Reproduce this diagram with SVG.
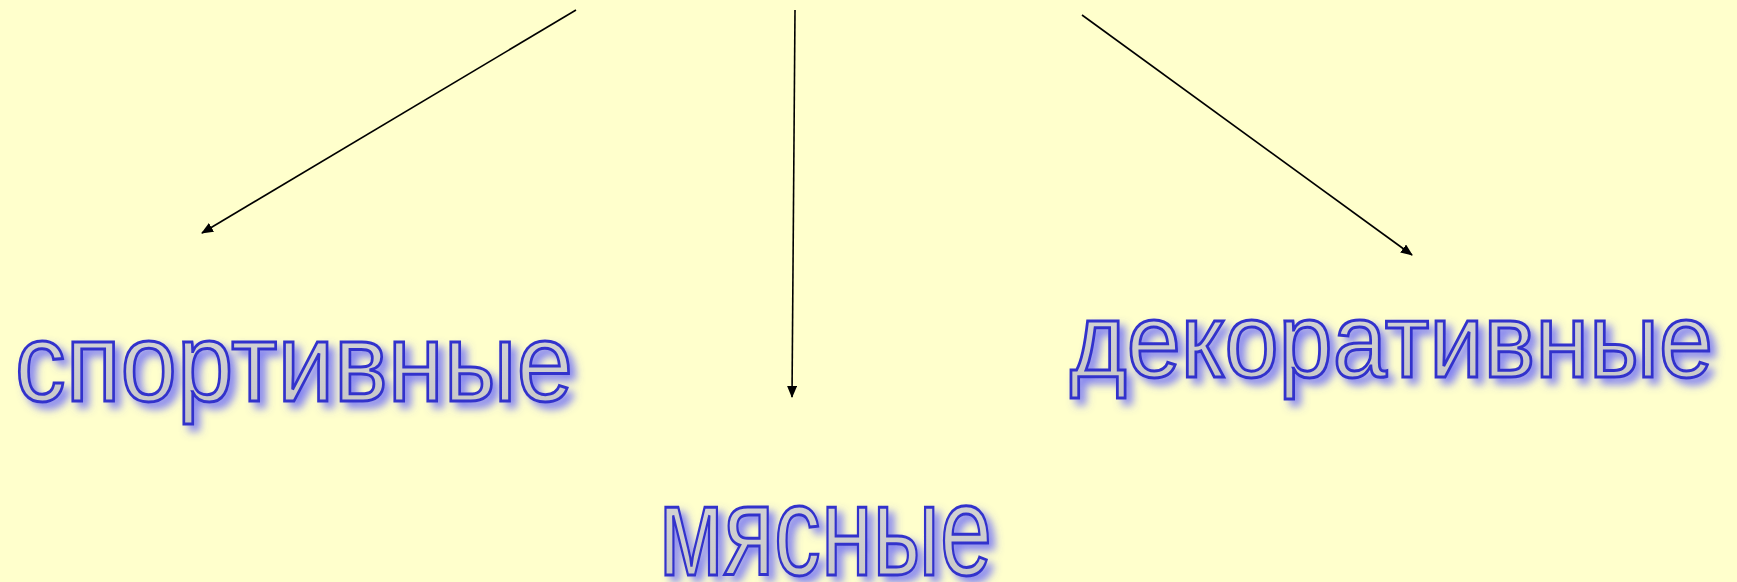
<svg xmlns="http://www.w3.org/2000/svg" width="1737" height="582" viewBox="0 0 1737 582">
  <defs>
    <marker id="arr" viewBox="0 0 12 10" refX="11" refY="5" markerWidth="12" markerHeight="10" markerUnits="userSpaceOnUse" orient="auto">
      <path d="M0,0 L12,5 L0,10 Z" fill="#000"/>
    </marker>
    <filter id="sh" x="-10%" y="-30%" width="120%" height="160%">
      <feGaussianBlur in="SourceAlpha" stdDeviation="4" result="b"/>
      <feOffset in="b" dx="6" dy="6" result="o"/>
      <feFlood flood-color="#5a5aff" flood-opacity="0.75"/>
      <feComposite in2="o" operator="in" result="s"/>
      <feMerge><feMergeNode in="s"/><feMergeNode in="SourceGraphic"/></feMerge>
    </filter>
    <linearGradient id="g" x1="0" y1="0" x2="0" y2="1">
      <stop offset="0" stop-color="#d8d8d8"/>
      <stop offset="1" stop-color="#c6c6c6"/>
    </linearGradient>
  </defs>
  <style>
    .lbl { font-family: "Liberation Sans Narrow", "Liberation Sans", Arial, sans-serif; fill: url(#g); stroke: #3333cc; stroke-width: 3; filter: url(#sh); }
    .conn { stroke: #000; stroke-width: 1.6; fill: none; marker-end: url(#arr); }
  </style>
  <rect width="1737" height="582" fill="#ffffcc"/>
  <g id="connectors">
    <line class="conn" x1="576" y1="10" x2="202" y2="233"/>
    <line class="conn" x1="795" y1="10" x2="792" y2="397"/>
    <line class="conn" x1="1082" y1="15" x2="1412" y2="255"/>
  </g>
  <g id="node-sport">
    <text class="lbl" x="15" y="401" font-size="112" textLength="558" lengthAdjust="spacingAndGlyphs">спортивные</text>
  </g>
  <g id="node-meat">
    <text class="lbl" x="659" y="575" font-size="128" textLength="333" lengthAdjust="spacingAndGlyphs">мясные</text>
  </g>
  <g id="node-decor">
    <text class="lbl" x="1070" y="377" font-size="105" textLength="643" lengthAdjust="spacingAndGlyphs">декоративные</text>
  </g>
</svg>
